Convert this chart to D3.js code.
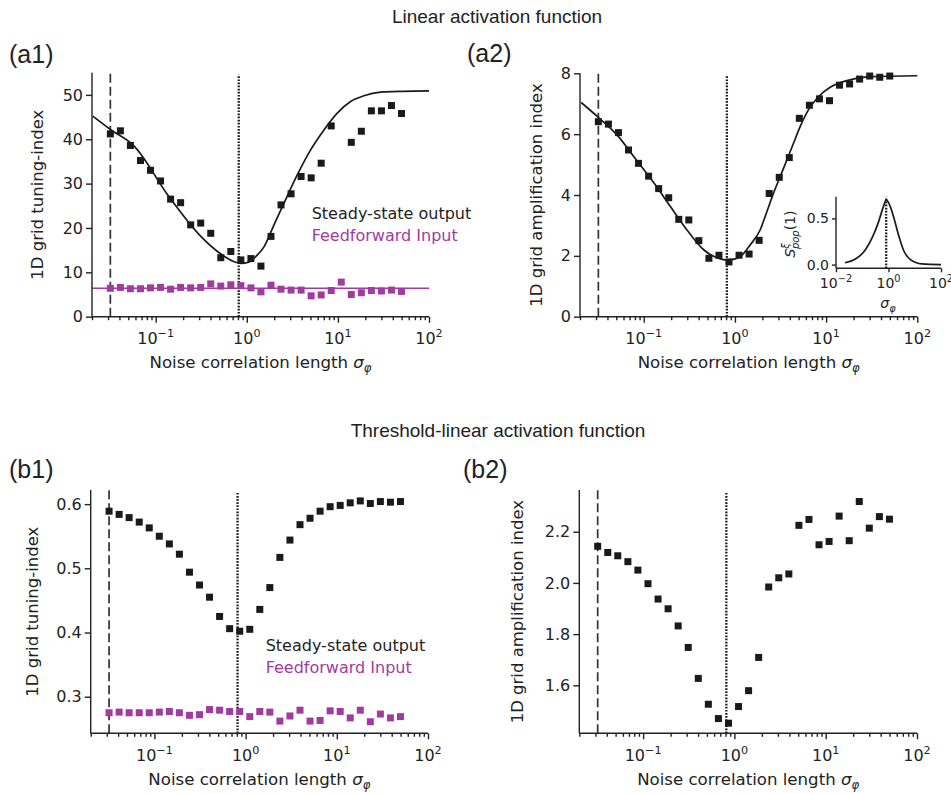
<!DOCTYPE html>
<html>
<head>
<meta charset="utf-8">
<script src="https://cdn.jsdelivr.net/npm/d3@7"></script>
<style>
  body { margin: 0; background: #fff; }
  svg text { fill: #222; font-family: "DejaVu Sans", sans-serif; }
</style>
</head>
<body>
<svg id="fig" width="951" height="794"></svg>
<script>
// noise correlation lengths (x of every simulated point)
const sigma = [0.0318, 0.0410, 0.0528, 0.0681, 0.0877, 0.1131, 0.1458, 0.1878, 0.2421, 0.3120,
  0.4021, 0.5183, 0.6680, 0.8610, 1.110, 1.430, 1.843, 2.375, 3.062, 3.946,
  5.086, 6.555, 8.449, 10.89, 14.03, 18.09, 23.31, 30.05, 38.73, 49.91];

// vertical reference lines
const dashedSigma = 0.0318;
const dottedSigma = 0.816;

// (a1) linear, tuning index
const a1Output = [41.2, 41.9, 38.6, 35.2, 33.0, 30.6, 26.5, 25.7, 20.7, 21.1,
  18.8, 13.3, 14.7, 12.8, 13.1, 11.4, 18.1, 25.2, 27.7, 31.6,
  31.3, 34.6, 43.0, null, 39.3, 41.8, 46.4, 46.4, 47.6, 45.8];
const a1Input = [6.4, 6.6, 6.3, 6.3, 6.5, 6.6, 6.2, 6.6, 6.5, 6.6,
  7.4, 6.9, 7.2, 7.0, 6.5, 5.6, 7.1, 6.2, 6.0, 6.0,
  4.7, 4.9, 5.9, 7.8, 5.0, 5.4, 5.9, 5.8, 6.0, 5.7];
const a1InputLevel = 6.4;
const a1FitX = [0.0204, 0.0318, 0.0584, 0.135, 0.313, 0.477, 0.727, 0.859, 1.05, 1.20, 1.55, 1.99,
  2.56, 3.59, 5.02, 7.03, 9.84, 13.8, 19.3, 29.4, 52.5, 100];
const a1FitY = [45.2, 42.2, 38.4, 27.5, 18.1, 14.7, 12.4, 12.0, 12.3, 13.2, 15.8, 20.7,
  25.6, 32.0, 37.6, 42.1, 45.9, 48.5, 49.8, 50.6, 50.8, 50.9];

// (a2) linear, amplification index
const a2Output = [6.41, 6.33, 6.05, 5.48, 5.04, 4.62, 4.21, 3.91, 3.20, 3.18,
  2.50, 1.92, 2.02, 1.80, 2.02, 2.06, 2.51, 4.05, 4.58, 5.23,
  6.52, 6.95, 7.16, 7.10, 7.61, 7.65, 7.81, 7.91, 7.87, 7.91];
const a2FitX = [0.0206, 0.0318, 0.05, 0.0845, 0.129, 0.196, 0.298, 0.454, 0.691, 0.853, 1.14, 1.47,
  1.89, 2.24, 2.65, 3.13, 3.71, 4.39, 5.19, 6.40, 8.24, 11.07, 16.9, 30.3, 100];
const a2FitY = [7.04, 6.55, 6.0, 5.12, 4.4, 3.62, 2.85, 2.2, 1.9, 1.86, 1.97, 2.36,
  2.85, 3.45, 4.06, 4.60, 5.15, 5.70, 6.25, 6.80, 7.23, 7.54, 7.76, 7.89, 7.92];

// inset: population spectrum
const insetX = [0.022, 0.053, 0.128, 0.23, 0.415, 0.644, 0.816, 1.2, 1.55, 2.41, 3.74, 6.67, 18.7, 100];
const insetY = [0.02, 0.057, 0.155, 0.28, 0.46, 0.63, 0.70, 0.62, 0.52, 0.32, 0.155, 0.057, 0.007, 0.0];

// (b1) threshold-linear, tuning index
const b1Output = [0.589, 0.584, 0.579, 0.572, 0.563, 0.550, 0.538, 0.522, 0.494, 0.474,
  0.455, 0.425, 0.406, 0.402, 0.405, 0.436, 0.470, 0.517, 0.544, 0.568,
  0.578, 0.589, 0.596, 0.598, 0.602, 0.605, 0.601, 0.604, 0.603, 0.604];
const b1Input = [0.275, 0.276, 0.275, 0.275, 0.275, 0.276, 0.277, 0.275, 0.271, 0.272,
  0.280, 0.279, 0.277, 0.277, 0.269, 0.277, 0.276, 0.262, 0.270, 0.279,
  0.262, 0.263, 0.278, 0.277, 0.267, 0.279, 0.261, 0.273, 0.267, 0.269];

// (b2) threshold-linear, amplification index
const b2Output = [2.143, 2.119, 2.106, 2.083, 2.050, 1.997, 1.937, 1.899, 1.832, 1.748,
  1.627, 1.526, 1.470, 1.452, 1.517, 1.579, 1.709, 1.984, 2.020, 2.035,
  2.225, 2.248, 2.149, 2.162, 2.261, 2.165, 2.318, 2.214, 2.259, 2.249];

// axis ticks
const xMajor = [0.1, 1, 10, 100];
const xMajorExp = ["\u22121", "0", "1", "2"];
const insetXMajor = [0.01, 1, 100];
const insetXExp = ["\u22122", "0", "2"];

const BLACK = "#1a1a1a";
const MAGENTA = "#a23b9f";
const INK = "#222";

const svg = d3.select("#fig");

// panel titles
svg.append("text").attr("x", 497).attr("y", 22.5).attr("text-anchor", "middle")
  .style("font-family", "'Liberation Sans', Arial, sans-serif").style("font-size", "19px")
  .text("Linear activation function");
svg.append("text").attr("x", 498).attr("y", 437).attr("text-anchor", "middle")
  .style("font-family", "'Liberation Sans', Arial, sans-serif").style("font-size", "19px")
  .text("Threshold-linear activation function");

[["(a1)", 9, 63], ["(a2)", 467, 62], ["(b1)", 9, 478], ["(b2)", 463, 478]].forEach(d => {
  svg.append("text").attr("x", d[1]).attr("y", d[2])
    .style("font-family", "'Liberation Sans', Arial, sans-serif").style("font-size", "25px")
    .text(d[0]);
});

// draw one set of log x / linear y axes
function axes(g, x, y, o) {
  const fs = o.fontSize || 16;
  const tl = o.tickLen || 6;
  const gx = g.append("g").attr("transform", `translate(0,${o.bottom})`)
    .call(d3.axisBottom(x).tickValues(o.xMajor).tickSize(tl).tickFormat(""));
  if (o.minor) {
    const minors = x.ticks().filter(v => !o.xMajor.some(m => Math.abs(m - v) < 1e-9));
    g.append("g").attr("transform", `translate(0,${o.bottom})`)
      .call(d3.axisBottom(x).tickValues(minors).tickSize(3.5).tickFormat(""))
      .call(s => s.select(".domain").remove());
  }
  const gy = g.append("g").attr("transform", `translate(${o.left},0)`)
    .call(d3.axisLeft(y).tickValues(o.yTicks).tickSize(tl).tickFormat(o.yFormat));
  g.selectAll(".domain, .tick line").attr("stroke", INK).attr("stroke-width", 1.4);
  gx.select(".domain").attr("d", `M${o.left},0H${x.range()[1]}`);
  gy.select(".domain").attr("d", `M0,${y.range()[0]}V${o.top}`);
  gy.selectAll(".tick text").attr("fill", INK).style("font-size", fs + "px")
    .style("font-family", "'DejaVu Sans', sans-serif").attr("x", -(tl + 3));

  // 10^n labels
  o.xMajor.forEach((v, i) => {
    const t = g.append("text").attr("x", x(v)).attr("y", o.bottom + o.labelDy)
      .attr("text-anchor", "middle").style("font-size", fs + "px");
    t.append("tspan").text("10");
    t.append("tspan").attr("dy", -0.45 * fs).style("font-size", (fs * 0.7) + "px").text(o.xExp[i]);
  });
}

function sigmaLabel(g, cx, yb, fs) {
  const t = g.append("text").attr("x", cx).attr("y", yb).attr("text-anchor", "middle")
    .style("font-size", fs + "px");
  if (fs > 14) t.append("tspan").text("Noise correlation length ");
  t.append("tspan").style("font-style", "italic").text("\u03c3");
  t.append("tspan").attr("dy", 0.25 * fs).style("font-style", "italic")
    .style("font-size", (fs * 0.7) + "px").text("\u03c6");
}

function yLabel(g, xb, cy, txt) {
  g.append("text").attr("transform", `translate(${xb},${cy}) rotate(-90)`)
    .attr("text-anchor", "middle").style("font-size", "16.5px").text(txt);
}

function squares(g, x, y, vals, color) {
  const s = 7;
  g.append("g").selectAll("rect")
    .data(sigma.map((v, i) => [v, vals[i]]).filter(d => d[1] != null))
    .join("rect")
    .attr("x", d => x(d[0]) - s / 2).attr("y", d => y(d[1]) - s / 2)
    .attr("width", s).attr("height", s).attr("fill", color);
}

function refLines(g, x, top, bottom) {
  g.append("line").attr("x1", x(dashedSigma)).attr("x2", x(dashedSigma))
    .attr("y1", bottom).attr("y2", top)
    .attr("stroke", "#333").attr("stroke-width", 1.7).attr("stroke-dasharray", "9,4");
  g.append("line").attr("x1", x(dottedSigma)).attr("x2", x(dottedSigma))
    .attr("y1", bottom).attr("y2", top + 2)
    .attr("stroke", "#1a1a1a").attr("stroke-width", 2.3).attr("stroke-dasharray", "1.7,1.4");
}

function fitLine(g, x, y, xs, ys, color) {
  g.append("path").datum(xs.map((v, i) => [v, ys[i]]))
    .attr("fill", "none").attr("stroke", color).attr("stroke-width", 1.7)
    .attr("d", d3.line().x(d => x(d[0])).y(d => y(d[1])).curve(d3.curveMonotoneX));
}

function legend(g, xs, yb) {
  g.append("text").attr("x", xs).attr("y", yb).style("font-size", "16px")
    .attr("fill", BLACK).text("Steady-state output");
  g.append("text").attr("x", xs).attr("y", yb + 22).style("font-size", "16px")
    .style("fill", MAGENTA).text("Feedforward Input");
}

// ---------- (a1) ----------
{
  const L = 92, R = 429, T = 72.7, B = 316.7;
  const g = svg.append("g");
  const x = d3.scaleLog().domain([0.02, 100]).range([L, R]);
  const y = d3.scaleLinear().domain([0, 55]).range([B, T]);
  refLines(g, x, T, B);
  g.append("path").datum([[0.02, a1InputLevel], [100, a1InputLevel]])
    .attr("fill", "none").attr("stroke", MAGENTA).attr("stroke-width", 1.5)
    .attr("d", d3.line().x(d => x(d[0])).y(d => y(d[1])));
  fitLine(g, x, y, a1FitX, a1FitY, BLACK);
  squares(g, x, y, a1Input, MAGENTA);
  squares(g, x, y, a1Output, BLACK);
  axes(g, x, y, { left: L, top: T, bottom: B, xMajor, xExp: xMajorExp, minor: true,
    yTicks: [0, 10, 20, 30, 40, 50], yFormat: d3.format("d"), labelDy: 27.5 });
  sigmaLabel(g, (L + R) / 2, B + 51.6, 16.6);
  yLabel(g, 42.5, (T + B) / 2, "1D grid tuning-index");
  legend(g, 311.7, 219.3);
}

// ---------- (a2) ----------
{
  const L = 580, R = 917.3, T = 73.3, B = 316.7;
  const g = svg.append("g");
  const x = d3.scaleLog().domain([0.02, 100]).range([L, R]);
  const y = d3.scaleLinear().domain([0, 8]).range([B, T]);
  refLines(g, x, T, B);
  fitLine(g, x, y, a2FitX, a2FitY, BLACK);
  squares(g, x, y, a2Output, BLACK);
  axes(g, x, y, { left: L, top: T, bottom: B, xMajor, xExp: xMajorExp, minor: true,
    yTicks: [0, 2, 4, 6, 8], yFormat: d3.format("d"), labelDy: 27.5 });
  sigmaLabel(g, (L + R) / 2, B + 51.6, 16.6);
  yLabel(g, 541.5, (T + B) / 2, "1D grid amplification index");

  // inset
  const iL = 836, iR = 941, iT = 196.7, iB = 268.3;
  const ig = svg.append("g");
  const ix = d3.scaleLog().domain([0.01, 100]).range([iL, iR]);
  const iy = d3.scaleLinear().domain([-0.04, 0.735]).range([iB, iT]);
  ig.append("line").attr("x1", ix(dottedSigma)).attr("x2", ix(dottedSigma))
    .attr("y1", iB).attr("y2", iT)
    .attr("stroke", "#1a1a1a").attr("stroke-width", 2.3).attr("stroke-dasharray", "1.7,1.4");
  fitLine(ig, ix, iy, insetX, insetY, BLACK);
  axes(ig, ix, iy, { left: iL, top: iT, bottom: iB, xMajor: insetXMajor, xExp: insetXExp,
    minor: false, yTicks: [0, 0.5], yFormat: d3.format(".1f"), labelDy: 20,
    fontSize: 14, tickLen: 4 });
  sigmaLabel(ig, 888, 308, 14);
  const st = ig.append("text").attr("transform", "translate(795,234) rotate(-90)")
    .attr("text-anchor", "middle").style("font-size", "14px");
  st.append("tspan").style("font-style", "italic").text("S");
  st.append("tspan").attr("dy", -6).style("font-size", "10px").style("font-style", "italic").text("\u03be");
  st.append("tspan").attr("dx", -6).attr("dy", 10).style("font-size", "10px").style("font-style", "italic").text("pop");
  st.append("tspan").attr("dy", -4).text("(1)");
}

// ---------- (b1) ----------
{
  const L = 90.7, R = 428, T = 490, B = 733.3;
  const g = svg.append("g");
  const x = d3.scaleLog().domain([0.02, 100]).range([L, R]);
  const y = d3.scaleLinear().domain([0.243, 0.622]).range([B, T]);
  refLines(g, x, T, B);
  squares(g, x, y, b1Input, MAGENTA);
  squares(g, x, y, b1Output, BLACK);
  axes(g, x, y, { left: L, top: T, bottom: B, xMajor, xExp: xMajorExp, minor: true,
    yTicks: [0.3, 0.4, 0.5, 0.6], yFormat: d3.format(".1f"), labelDy: 27.5 });
  sigmaLabel(g, (L + R) / 2, B + 51.7, 16.6);
  yLabel(g, 38.3, (T + B) / 2, "1D grid tuning-index");
  legend(g, 265.7, 650.7);
}

// ---------- (b2) ----------
{
  const L = 579.3, R = 917, T = 490, B = 733.3;
  const g = svg.append("g");
  const x = d3.scaleLog().domain([0.02, 100]).range([L, R]);
  const y = d3.scaleLinear().domain([1.4125, 2.363]).range([B, T]);
  refLines(g, x, T, B);
  squares(g, x, y, b2Output, BLACK);
  axes(g, x, y, { left: L, top: T, bottom: B, xMajor, xExp: xMajorExp, minor: true,
    yTicks: [1.6, 1.8, 2.0, 2.2], yFormat: d3.format(".1f"), labelDy: 27.5 });
  sigmaLabel(g, (L + R) / 2, B + 51.7, 16.6);
  yLabel(g, 523.3, (T + B) / 2, "1D grid amplification index");
}
</script>
</body>
</html>
